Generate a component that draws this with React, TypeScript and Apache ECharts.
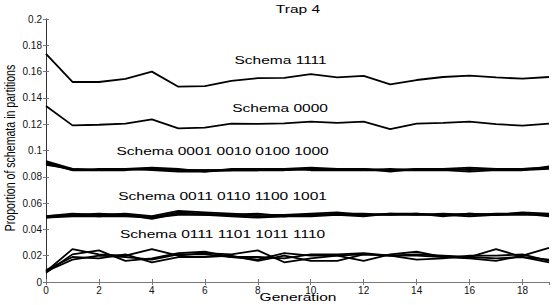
import React, { useEffect, useRef } from "react";
import * as echarts from "echarts";

const generations = Array.from({ length: 20 }, (_, i) => i);

const schema1111 = [0.1734, 0.1521, 0.1521, 0.1544, 0.16, 0.1485, 0.149, 0.153, 0.155, 0.1552, 0.158, 0.1556, 0.1568, 0.1503, 0.1536, 0.1559, 0.157, 0.1556, 0.1546, 0.1559];
const schema0000 = [0.1338, 0.1191, 0.1196, 0.1204, 0.1237, 0.1169, 0.1174, 0.1204, 0.1202, 0.1206, 0.1219, 0.121, 0.1219, 0.1163, 0.1204, 0.121, 0.1219, 0.12, 0.1189, 0.1204];

const order1A = [0.092, 0.086, 0.085, 0.086, 0.086, 0.085, 0.085, 0.085, 0.086, 0.086, 0.087, 0.086, 0.086, 0.085, 0.086, 0.086, 0.087, 0.086, 0.086, 0.087];
const order1B = [0.091, 0.085, 0.086, 0.086, 0.087, 0.086, 0.084, 0.086, 0.086, 0.085, 0.086, 0.086, 0.085, 0.086, 0.085, 0.086, 0.085, 0.086, 0.085, 0.088];
const order1C = [0.089, 0.086, 0.085, 0.085, 0.086, 0.085, 0.085, 0.085, 0.085, 0.086, 0.085, 0.085, 0.086, 0.084, 0.086, 0.085, 0.086, 0.085, 0.086, 0.087];
const order1D = [0.09, 0.085, 0.085, 0.086, 0.085, 0.084, 0.084, 0.085, 0.085, 0.085, 0.086, 0.085, 0.085, 0.085, 0.085, 0.085, 0.084, 0.085, 0.085, 0.086];

const order2A = [0.05, 0.052, 0.051, 0.052, 0.05, 0.054, 0.053, 0.052, 0.051, 0.051, 0.052, 0.053, 0.051, 0.052, 0.052, 0.051, 0.052, 0.051, 0.053, 0.052];
const order2B = [0.049, 0.051, 0.052, 0.051, 0.049, 0.053, 0.052, 0.051, 0.052, 0.05, 0.051, 0.052, 0.052, 0.051, 0.051, 0.052, 0.051, 0.052, 0.052, 0.051];
const order2C = [0.05, 0.051, 0.05, 0.051, 0.048, 0.052, 0.051, 0.051, 0.05, 0.05, 0.051, 0.051, 0.051, 0.051, 0.052, 0.05, 0.052, 0.051, 0.051, 0.051];
const order2D = [0.049, 0.05, 0.05, 0.05, 0.049, 0.051, 0.051, 0.05, 0.049, 0.05, 0.05, 0.051, 0.05, 0.052, 0.051, 0.051, 0.05, 0.051, 0.052, 0.05];

const order3A = [0.008, 0.025, 0.021, 0.02, 0.025, 0.02, 0.022, 0.021, 0.024, 0.015, 0.018, 0.02, 0.021, 0.02, 0.02, 0.019, 0.019, 0.025, 0.019, 0.017];
const order3B = [0.007, 0.021, 0.024, 0.016, 0.018, 0.022, 0.023, 0.019, 0.017, 0.022, 0.02, 0.02, 0.016, 0.021, 0.023, 0.019, 0.018, 0.016, 0.02, 0.026];
const order3C = [0.009, 0.019, 0.018, 0.021, 0.015, 0.019, 0.019, 0.02, 0.016, 0.02, 0.016, 0.016, 0.021, 0.02, 0.017, 0.018, 0.02, 0.02, 0.021, 0.016];
const order3D = [0.008, 0.017, 0.02, 0.019, 0.017, 0.021, 0.021, 0.019, 0.019, 0.018, 0.021, 0.021, 0.022, 0.02, 0.021, 0.02, 0.019, 0.018, 0.019, 0.015];

const allSeries = [schema1111, schema0000, order1A, order1B, order1C, order1D, order2A, order2B, order2C, order2D, order3A, order3B, order3C, order3D];

const labelTexts = ["Schema 1111", "Schema 0000", "Schema 0001 0010 0100 1000", "Schema 0011 0110 1100 1001", "Schema 0111 1101 1011 1110"];
const labelX = [8.86, 8.84, 6.67, 6.67, 6.67];
const labelY = [0.1688, 0.1323, 0.0998, 0.0649, 0.0365];

const yTicks = [0, 0.02, 0.04, 0.06, 0.08, 0.1, 0.12, 0.14, 0.16, 0.18, 0.2];
const titleText = "Trap 4";
const xName = "Generation";
const yName = "Proportion of schemata in partitions";

const FONT = "'Liberation Sans', Arial, Helvetica, sans-serif";

export default function App() {
  const ref = useRef<HTMLDivElement>(null);
  useEffect(() => {
    if (!ref.current) return;
    const chart = echarts.init(ref.current, null, { renderer: "svg" });
    const axisGrey = "#777";
    const option: any = {
      animation: false,
      backgroundColor: "#fff",
      grid: { left: 46, right: 5, top: 19, bottom: 23 },
      xAxis: [
        {
          type: "value",
          min: 0,
          max: 19,
          interval: 2,
          position: "bottom",
          axisLine: { lineStyle: { color: axisGrey, width: 1 } },
          axisTick: { inside: true, length: 3, lineStyle: { color: axisGrey } },
          axisLabel: { fontSize: 10, color: "#111", margin: 3, fontFamily: FONT, showMaxLabel: false },
          splitLine: { show: false },
        },
        {
          type: "value",
          min: 0,
          max: 19,
          interval: 2,
          position: "top",
          axisLine: { lineStyle: { color: axisGrey, width: 1 } },
          axisTick: { inside: true, length: 3, lineStyle: { color: axisGrey } },
          axisLabel: { show: false },
          splitLine: { show: false },
        },
      ],
      yAxis: [
        {
          type: "value",
          min: 0,
          max: 0.2,
          interval: 0.02,
          position: "left",
          axisLine: { show: true, lineStyle: { color: axisGrey, width: 1 } },
          axisTick: { show: true, inside: true, length: 3, lineStyle: { color: axisGrey } },
          axisLabel: {
            fontSize: 10,
            color: "#111",
            margin: 4,
            fontFamily: FONT,
            formatter: (v: number) => {
              const t = yTicks.find((k) => Math.abs(k - v) < 1e-9);
              return String(+(t ?? v).toFixed(2));
            },
          },
          splitLine: { show: false },
        },
        {
          type: "value",
          min: 0,
          max: 0.2,
          interval: 0.02,
          position: "right",
          axisLine: { show: true, lineStyle: { color: "#333", width: 1 } },
          axisTick: { show: true, inside: true, length: 3, lineStyle: { color: axisGrey } },
          axisLabel: { show: false },
          splitLine: { show: false },
        },
      ],
      series: allSeries.map((vals) => ({
        type: "line",
        xAxisIndex: 0,
        yAxisIndex: 0,
        data: generations.map((g, i) => [g, vals[i]]),
        symbol: "none",
        lineStyle: { color: "#000", width: 1.8 },
        silent: true,
      })),
    };
    chart.setOption(option);

    const graphics: any[] = [];
    labelTexts.forEach((t, i) => {
      const p = chart.convertToPixel({ gridIndex: 0 }, [labelX[i], labelY[i]]) as number[];
      graphics.push({
        type: "text",
        x: p[0],
        y: p[1],
        scaleX: 1.35,
        style: {
          text: t,
          fontSize: 11.5,
          fontFamily: FONT,
          fill: "#000",
          textAlign: "center",
          textVerticalAlign: "middle",
        },
      });
    });
    graphics.push({
      type: "text",
      x: 298,
      y: 9,
      scaleX: 1.35,
      style: { text: titleText, fontSize: 11.5, fontFamily: FONT, fill: "#000", textAlign: "center", textVerticalAlign: "middle" },
    });
    graphics.push({
      type: "text",
      x: 298,
      y: 297,
      scaleX: 1.35,
      style: { text: xName, fontSize: 11.5, fontFamily: FONT, fill: "#000", textAlign: "center", textVerticalAlign: "middle" },
    });
    graphics.push({
      type: "text",
      x: 11,
      y: 148,
      rotation: Math.PI / 2,
      scaleY: 1.3,
      style: { text: yName, fontSize: 10.6, fontFamily: FONT, fill: "#000", textAlign: "center", textVerticalAlign: "middle" },
    });
    chart.setOption({ graphic: graphics });

    return () => chart.dispose();
  }, []);
  return (
    <div
      ref={ref}
      style={{ position: "fixed", left: 0, top: 0, width: 554, height: 305, background: "#fff" }}
    />
  );
}
